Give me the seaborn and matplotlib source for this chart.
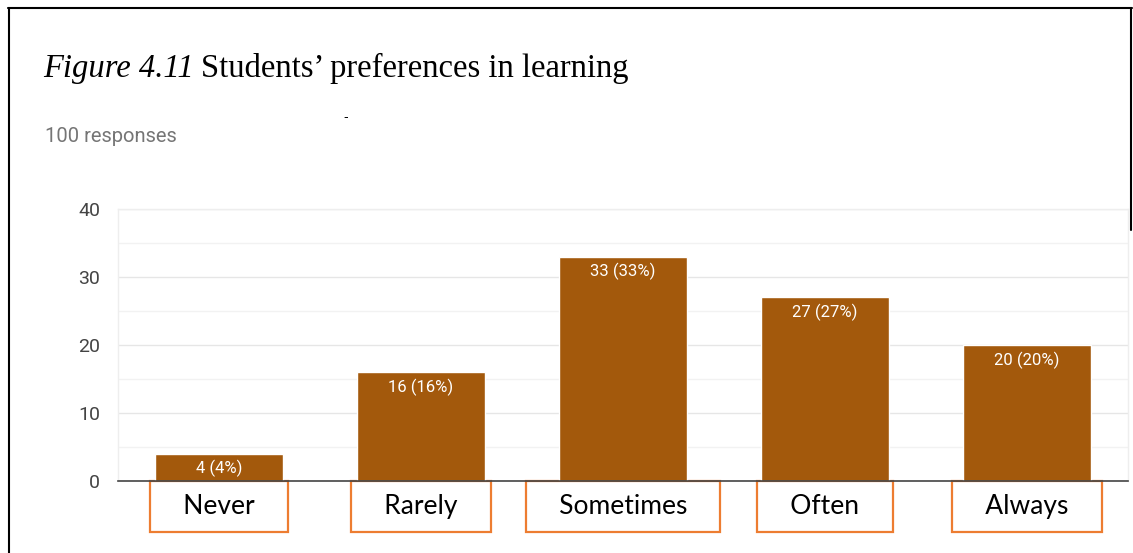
import matplotlib
matplotlib.use("Agg")
import matplotlib.pyplot as plt
import seaborn as sns
from matplotlib.lines import Line2D
from matplotlib.ticker import MultipleLocator

# Data
categories = ["Never", "Rarely", "Sometimes", "Often", "Always"]
counts = [4, 16, 33, 27, 20]
total = 100
bar_labels = [f"{c} ({round(c * 100 / total)}%)" for c in counts]

sns.set_theme(style="white")

fig = plt.figure(figsize=(11.33, 5.53), dpi=100)
ax = fig.add_axes([118 / 1133, 1 - 481 / 553, (1128 - 118) / 1133, (481 - 209) / 553])

# Bars
sns.barplot(x=categories, y=counts, color="#A3590C", saturation=1, width=0.63, ax=ax)
ax.set_xlim(-0.5, len(categories) - 0.5)
ax.set_ylim(0, 40)
ax.set_xlabel("")
ax.set_ylabel("")

# Value labels inside bars
ax.bar_label(ax.containers[0], labels=bar_labels, padding=-17, color="white",
             fontsize=12, family="Roboto")

# Grid
ax.yaxis.set_major_locator(MultipleLocator(10))
ax.yaxis.set_minor_locator(MultipleLocator(5))
ax.grid(axis="y", which="major", color="#E6E6E6", lw=1)
ax.grid(axis="y", which="minor", color="#F2F2F2", lw=1)
ax.set_axisbelow(True)

for side in ["left", "right", "top"]:
    ax.spines[side].set_color("#EEEEEE")
    ax.spines[side].set_linewidth(1)
ax.spines["bottom"].set_color("#444444")
ax.spines["bottom"].set_linewidth(1.2)

ax.tick_params(axis="y", length=0, pad=13, labelsize=14, labelcolor="#444444")
for t in ax.get_yticklabels():
    t.set_family("Roboto")

# Category labels in orange boxes
ax.tick_params(axis="x", length=0, pad=9.5)
pad_sp = " " * 3
ax.set_xticks(range(len(categories)))
ax.set_xticklabels([pad_sp + c + pad_sp for c in categories])
for t in ax.get_xticklabels():
    t.set_family("Lato")
    t.set_fontsize(19)
    t.set_color("black")
    t.set_bbox(dict(boxstyle="square,pad=0.49", fc="white", ec="#ED7D31", lw=1.6))

# Page frame lines
fig.add_artist(Line2D([8 / 1133, 1132 / 1133], [1 - 8 / 553, 1 - 8 / 553],
                      color="black", lw=1.5, transform=fig.transFigure))
fig.add_artist(Line2D([9 / 1133, 9 / 1133], [0, 1 - 8 / 553],
                      color="black", lw=1.5, transform=fig.transFigure))
fig.add_artist(Line2D([1131 / 1133, 1131 / 1133], [1 - 230 / 553, 1 - 8 / 553],
                      color="black", lw=1.5, transform=fig.transFigure))

# Title: italic part + regular part
t1 = fig.text(43 / 1133, 1 - 77 / 553, "Figure 4.11", family="Liberation Serif",
              style="italic", fontsize=23.5, color="black", va="baseline")
fig.canvas.draw()
bb = t1.get_window_extent()
fig.text(bb.x1 / fig.bbox.width + 7 / 1133, 1 - 77 / 553, "Students\u2019 preferences in learning",
         family="Liberation Serif", fontsize=23.5, color="black", va="baseline")

fig.text(343 / 1133, 1 - 117 / 553, "-", family="Liberation Sans", fontsize=10,
         color="black", va="center")
fig.text(45 / 1133, 1 - 137 / 553, "100 responses", family="Roboto", fontsize=14.5,
         color="#757575", va="center")

fig.savefig("out.png", dpi=100)
